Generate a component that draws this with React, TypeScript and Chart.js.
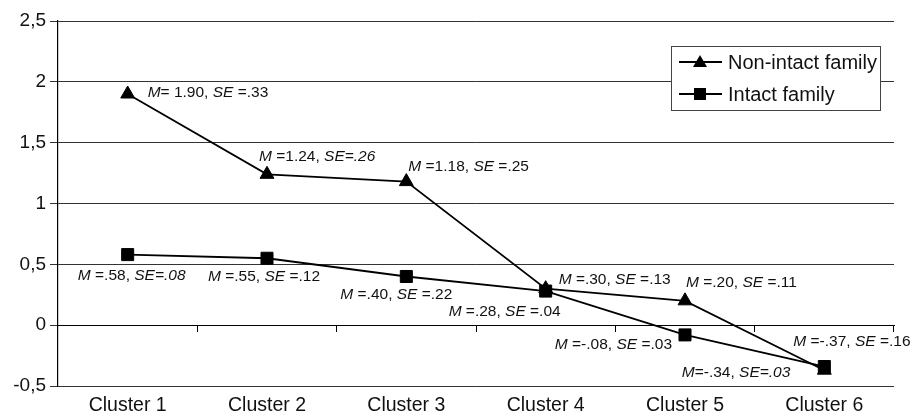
import React, { useEffect, useRef } from 'react';
import { Chart, registerables } from 'chart.js';

Chart.register(...registerables);

// ---------- data ----------
const categories = ['Cluster 1', 'Cluster 2', 'Cluster 3', 'Cluster 4', 'Cluster 5', 'Cluster 6'];
const seriesNames = ['Non-intact family', 'Intact family'];
const nonIntact = [1.9, 1.24, 1.18, 0.3, 0.2, -0.37];
const intact = [0.58, 0.55, 0.4, 0.28, -0.08, -0.34];
const yMin = -0.5;
const yMax = 2.5;
const yStep = 0.5;

// annotation texts: [text, italic]
type Seg = [string, boolean];
const nonIntactNotes: Seg[][] = [
  [['M', true], ['= 1.90, ', false], ['SE', true], [' =.33', false]],
  [['M', true], [' =1.24, ', false], ['SE=.26', true]],
  [['M', true], [' =1.18, ', false], ['SE', true], [' =.25', false]],
  [['M', true], [' =.30, ', false], ['SE', true], [' =.13', false]],
  [['M', true], [' =.20, ', false], ['SE', true], [' =.11', false]],
  [['M', true], [' =-.37, ', false], ['SE', true], [' =.16', false]],
];
const intactNotes: Seg[][] = [
  [['M', true], [' =.58, ', false], ['SE=.08', true]],
  [['M', true], [' =.55, ', false], ['SE', true], [' =.12', false]],
  [['M', true], [' =.40, ', false], ['SE', true], [' =.22', false]],
  [['M', true], [' =.28, ', false], ['SE', true], [' =.04', false]],
  [['M', true], [' =-.08, ', false], ['SE', true], [' =.03', false]],
  [['M', true], ['=-.34, ', false], ['SE=.03', true]],
];

// ---------- label placement (pixels relative to the point) ----------
type Place = { align: 'left' | 'center' | 'right'; dx: number; dy: number };
const nonIntactPlace: Place[] = [
  { align: 'left', dx: 20, dy: -1 },
  { align: 'left', dx: -8, dy: -18 },
  { align: 'left', dx: 2, dy: -15 },
  { align: 'left', dx: 13, dy: -9 },
  { align: 'left', dx: 1, dy: -18 },
  { align: 'left', dx: -31, dy: -28 },
];
const intactPlace: Place[] = [
  { align: 'center', dx: 4, dy: 21 },
  { align: 'center', dx: -3, dy: 18 },
  { align: 'center', dx: -10, dy: 18 },
  { align: 'right', dx: 15, dy: 21 },
  { align: 'right', dx: -13, dy: 10 },
  { align: 'right', dx: -34, dy: 6 },
];

const FONT = '"Liberation Sans", Arial, Helvetica, sans-serif';
const W = 914;
const H = 417;

function drawRich(
  ctx: CanvasRenderingContext2D,
  segs: Seg[],
  x: number,
  y: number,
  align: 'left' | 'center' | 'right',
  size: number,
  color: string
) {
  const widths = segs.map(([t, it]) => {
    ctx.font = `${it ? 'italic ' : ''}${size}px ${FONT}`;
    return ctx.measureText(t).width;
  });
  const total = widths.reduce((a, b) => a + b, 0);
  const start = align === 'left' ? x : align === 'center' ? x - total / 2 : x - total;
  ctx.save();
  ctx.fillStyle = color;
  ctx.textBaseline = 'middle';
  ctx.textAlign = 'left';
  let cx = start;
  segs.forEach(([t, it], i) => {
    ctx.font = `${it ? 'italic ' : ''}${size}px ${FONT}`;
    ctx.fillText(t, cx, y);
    cx += widths[i];
  });
  ctx.restore();
}

const notesPlugin = {
  id: 'notes',
  afterDatasetsDraw(chart: any) {
    const ctx = chart.ctx as CanvasRenderingContext2D;
    const xs = chart.scales.x;
    const ys = chart.scales.y;
    const groups: [number[], Seg[][], Place[]][] = [
      [nonIntact, nonIntactNotes, nonIntactPlace],
      [intact, intactNotes, intactPlace],
    ];
    groups.forEach(([vals, notes, places]) => {
      vals.forEach((v, i) => {
        const px = xs.getPixelForValue(i);
        const py = ys.getPixelForValue(v);
        const p = places[i];
        drawRich(ctx, notes[i], px + p.dx, py + p.dy, p.align, 15.5, '#111');
      });
    });
  },
};

function drawMarker(ctx: CanvasRenderingContext2D, style: string, x: number, y: number) {
  ctx.fillStyle = '#000';
  ctx.beginPath();
  if (style === 'triangle') {
    ctx.moveTo(x, y - 7);
    ctx.lineTo(x + 7, y + 5);
    ctx.lineTo(x - 7, y + 5);
    ctx.closePath();
  } else {
    ctx.rect(x - 6, y - 6, 12, 12);
  }
  ctx.fill();
}

const legendPlugin = {
  id: 'boxLegend',
  afterDraw(chart: any) {
    const ctx = chart.ctx as CanvasRenderingContext2D;
    const area = chart.chartArea;
    const bw = 209;
    const bh = 64;
    const left = area.right - 14 - bw;
    const top = area.top + 25;
    ctx.save();
    ctx.fillStyle = '#fff';
    ctx.fillRect(left, top, bw, bh);
    ctx.strokeStyle = '#444';
    ctx.lineWidth = 1;
    ctx.strokeRect(left + 0.5, top + 0.5, bw, bh);
    chart.data.datasets.forEach((ds: any, i: number) => {
      const cy = top + 16 + i * 32;
      ctx.strokeStyle = '#000';
      ctx.lineWidth = 1.8;
      ctx.beginPath();
      ctx.moveTo(left + 8, cy);
      ctx.lineTo(left + 51, cy);
      ctx.stroke();
      drawMarker(ctx, ds.pointStyle, left + 29, cy);
      drawRich(ctx, [[ds.label, false]], left + 57, cy + 1, 'left', 20, '#111');
    });
    ctx.restore();
  },
};

export default function App() {
  const ref = useRef<HTMLCanvasElement | null>(null);

  useEffect(() => {
    if (!ref.current) return;
    const chart = new Chart(ref.current, {
      type: 'line',
      data: {
        labels: categories,
        datasets: [
          {
            label: seriesNames[0],
            data: nonIntact,
            borderColor: '#000',
            backgroundColor: '#000',
            borderWidth: 1.8,
            pointStyle: 'triangle',
            pointRadius: 8,
            pointBorderWidth: 1,
            pointBackgroundColor: '#000',
            pointBorderColor: '#000',
            tension: 0,
            order: 1,
          },
          {
            label: seriesNames[1],
            data: intact,
            borderColor: '#000',
            backgroundColor: '#000',
            borderWidth: 1.8,
            pointStyle: 'rect',
            pointRadius: 8.5,
            pointBorderWidth: 1,
            pointBackgroundColor: '#000',
            pointBorderColor: '#000',
            tension: 0,
            order: 0,
          },
        ],
      },
      options: {
        responsive: false,
        animation: false,
        devicePixelRatio: 1,
        layout: { padding: { top: 21, right: 20, left: 0, bottom: 0 } },
        plugins: {
          legend: { display: false },
          tooltip: { enabled: false },
        },
        scales: {
          x: {
            type: 'category',
            offset: true,
            position: 'bottom',
            grid: { display: false, drawTicks: false },
            border: { display: false },
            ticks: {
              color: '#111',
              font: { family: FONT, size: 19.5 },
              padding: 8,
              maxRotation: 0,
              autoSkip: false,
            },
            afterFit: (s: any) => {
              s.height = 31;
            },
          },
          x0: {
            type: 'category',
            axis: 'x',
            offset: true,
            position: { y: 0 },
            grid: {
              offset: true,
              drawOnChartArea: false,
              drawTicks: true,
              tickLength: 6,
              color: '#000',
            },
            border: { display: true, color: '#000', width: 1 },
            ticks: { display: false },
          },
          y: {
            type: 'linear',
            min: yMin,
            max: yMax,
            ticks: {
              stepSize: yStep,
              color: '#111',
              font: { family: FONT, size: 19 },
              padding: 4,
              callback: (v: any) => String(Math.round(Number(v) * 10) / 10).replace('.', ','),
            },
            grid: { color: '#333', lineWidth: 1, tickLength: 8 },
            border: { display: true, color: '#000', width: 1.2 },
            afterFit: (s: any) => {
              s.width = 58;
            },
          },
        },
      } as any,
      plugins: [notesPlugin, legendPlugin],
    });
    return () => chart.destroy();
  }, []);

  return (
    <div style={{ position: 'absolute', left: 0, top: 0, width: W, height: H, background: '#fff' }}>
      <canvas ref={ref} width={W} height={H} style={{ display: 'block', width: W, height: H }} />
    </div>
  );
}
